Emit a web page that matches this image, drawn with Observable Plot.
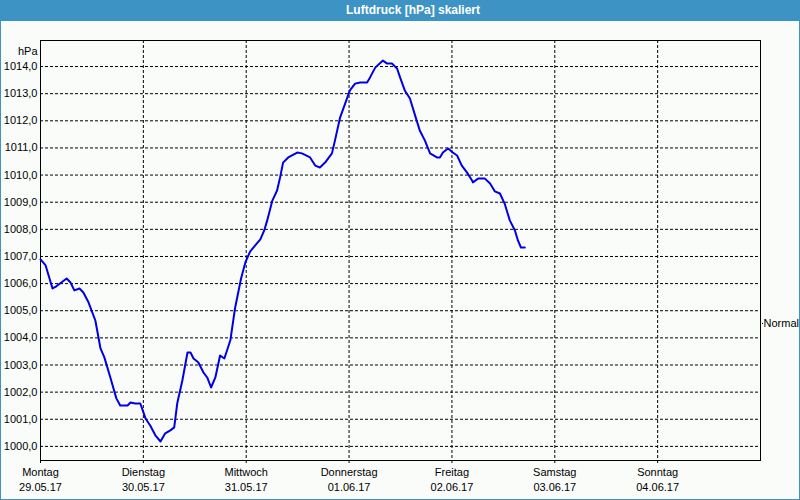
<!DOCTYPE html>
<html><head><meta charset="utf-8">
<script src="https://cdn.jsdelivr.net/npm/d3@7"></script>
<script src="https://cdn.jsdelivr.net/npm/@observablehq/plot@0.6"></script>
<style>
html,body{margin:0;padding:0;background:#fff;}
#wrap{position:relative;width:800px;height:500px;background:#fafcfa;overflow:hidden;font-family:"Liberation Sans",Arial,sans-serif;}
#title{position:absolute;left:0;top:0;width:800px;height:21px;background:#3d93c4;color:#fff;font-weight:bold;font-size:12px;line-height:21px;text-align:center;box-sizing:border-box;padding-left:26px;}
#chart{position:absolute;left:0;top:20px;}
#border{position:absolute;left:0;top:0;width:800px;height:500px;box-sizing:border-box;border:1px solid #3d93c4;pointer-events:none;}
</style></head>
<body>
<div id="wrap">
  <div id="title">Luftdruck [hPa] skaliert</div>
  <div id="chart"></div>
  <div id="border"></div>
</div>
<script>
// hours since Montag 29.05.17 00:00
const hours = [0,1.2,2.8,3.7,6.1,7.0,7.9,9.1,10.0,11.2,12.8,14.0,14.9,16.3,17.7,18.6,20.3,21.0,22.1,23.3,
  24.5,25.6,26.8,28.0,29.1,30.3,31.2,31.9,33.1,34.3,35.0,35.7,36.8,38.0,38.9,39.8,40.8,41.9,42.9,44.3,45.4,
  46.8,47.8,48.9,50.1,51.3,52.2,52.9,54.1,55.2,55.9,56.6,57.8,59.9,61.0,62.9,64.1,65.2,66.4,68.0,68.7,69.9,
  71.1,72.2,73.4,74.6,76.2,76.9,78.1,79.9,80.9,82.0,83.2,83.9,85.0,86.2,87.4,88.5,89.7,90.9,92.5,93.2,93.9,
  95.1,96.2,97.2,98.3,99.5,100.7,100.9,102.1,103.7,104.9,106.0,107.2,108.3,109.5,110.7,111.4,112.1,113.0];
const pressure = [1006.89,1006.67,1005.82,1005.90,1006.19,1006.04,1005.75,1005.82,1005.67,1005.31,1004.64,1003.61,1003.28,1002.54,1001.77,1001.51,1001.51,1001.62,1001.58,1001.58,
  1001.03,1000.77,1000.41,1000.18,1000.48,1000.59,1000.70,1001.58,1002.43,1003.46,1003.46,1003.24,1003.10,1002.73,1002.54,1002.17,1002.54,1003.35,1003.24,1003.91,1005.10,
  1006.19,1006.78,1007.18,1007.41,1007.63,1007.96,1008.33,1009.06,1009.43,1009.91,1010.46,1010.65,1010.83,1010.80,1010.65,1010.35,1010.28,1010.46,1010.80,1011.27,1012.12,
  1012.64,1013.12,1013.37,1013.41,1013.41,1013.60,1013.96,1014.22,1014.11,1014.11,1013.93,1013.60,1013.12,1012.82,1012.20,1011.64,1011.27,1010.80,1010.65,1010.65,1010.83,
  1010.98,1010.83,1010.72,1010.35,1010.10,1009.80,1009.73,1009.87,1009.87,1009.69,1009.40,1009.32,1008.95,1008.33,1007.96,1007.59,1007.33,1007.33];
const dayHours = [0,24,48,72,96,120,144];
const dayNames = ["Montag","Dienstag","Mittwoch","Donnerstag","Freitag","Samstag","Sonntag"];
const dayDates = ["29.05.17","30.05.17","31.05.17","01.06.17","02.06.17","03.06.17","04.06.17"];
const yTicks = [1000,1001,1002,1003,1004,1005,1006,1007,1008,1009,1010,1011,1012,1013,1014];
const normalValue = [1004.53];
const unitLabel = ["hPa"];
const normalLabel = ["Normal"];

const data = hours.map((h,i)=>({h, v: pressure[i]}));
const fmt = d => d.toFixed(1).replace(".", ",");

const chart = Plot.plot({
  width: 800, height: 480,
  marginLeft: 40, marginRight: 40, marginTop: 20, marginBottom: 40,
  style: {fontSize: "11px", fontFamily: "'Liberation Sans', Arial, sans-serif", background: "transparent", color: "#000"},
  x: {domain: [0,168], axis: null},
  y: {domain: [999.48, 1014.96], axis: null},
  marks: [
    Plot.ruleY(yTicks, {stroke: "#000", strokeWidth: 1, strokeDasharray: "3,2", strokeOpacity: 1}),
    Plot.ruleX(dayHours, {stroke: "#000", strokeWidth: 1, strokeDasharray: "3,2", insetBottom: -4, strokeOpacity: 1}),
    Plot.frame({stroke: "#000", strokeOpacity: 1}),
    Plot.line(data, {x: "h", y: "v", stroke: "#0000e6", strokeWidth: 2}),
    Plot.text(yTicks, {y: d => d, text: fmt, frameAnchor: "left", textAnchor: "end", dx: -3, fill: "#000"}),
    Plot.text(dayHours, {x: d => d, text: (d,i) => dayNames[i], frameAnchor: "bottom", dy: 15, fill: "#000"}),
    Plot.text(dayHours, {x: d => d, text: (d,i) => dayDates[i], frameAnchor: "bottom", dy: 30, fill: "#000"}),
    Plot.text(unitLabel, {text: d => d, frameAnchor: "top-left", textAnchor: "end", dx: -3, dy: 7, fill: "#000"}),
    Plot.ruleY(normalValue, {x1: 168, x2: 168, insetRight: -3, stroke: "#000", strokeDasharray: "1,1"}),
    Plot.text(normalValue, {y: d => d, text: (d,i) => normalLabel[i], frameAnchor: "right", textAnchor: "start", dx: 3, fill: "#000"})
  ]
});
document.getElementById("chart").appendChild(chart);
</script>
</body></html>
